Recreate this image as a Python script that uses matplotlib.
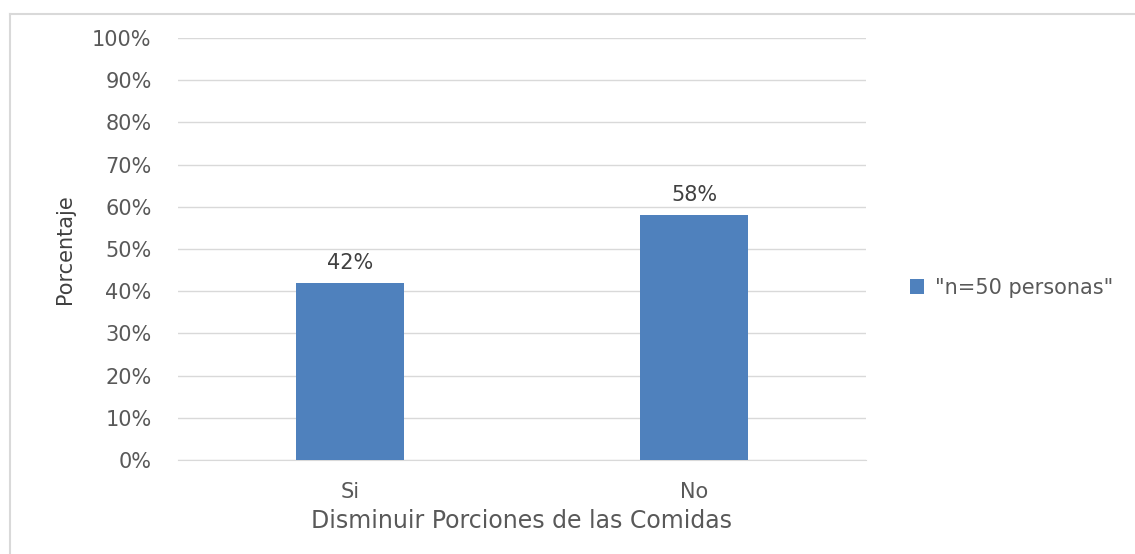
import matplotlib
matplotlib.use("Agg")
import matplotlib.pyplot as plt
from matplotlib.lines import Line2D
from matplotlib.ticker import PercentFormatter

categories = ["Si", "No"]
values = [42, 58]
series_name = '"n=50 personas"'

BAR_COLOR = "#4F81BD"
TEXT_COLOR = "#595959"
GRID_COLOR = "#D9D9D9"

plt.rcParams["font.family"] = ["DejaVu Sans"]

fig = plt.figure(figsize=(11.35, 5.54), dpi=100)
ax = fig.add_axes([0.1568, 0.1697, 0.6062, 0.7617])

x = range(len(categories))
bars = ax.bar(x, values, width=0.313, color=BAR_COLOR, label=series_name, zorder=3)
for bar, v in zip(bars, values):
    ax.text(bar.get_x() + bar.get_width() / 2, v + 2.4, f"{v}%",
            ha="center", va="bottom", fontsize=15, color="#404040")

ax.set_xlim(-0.5, 1.5)
ax.set_ylim(0, 100)
ax.set_yticks(range(0, 101, 10))
ax.yaxis.set_major_formatter(PercentFormatter(decimals=0))
ax.set_xticks(list(x))
ax.set_xticklabels(categories)
ax.tick_params(axis="both", length=0, labelsize=15, labelcolor=TEXT_COLOR)
ax.tick_params(axis="y", pad=19)
ax.tick_params(axis="x", pad=16)
ax.grid(True, axis="y", color=GRID_COLOR, linewidth=1, zorder=0)
for side in ["top", "right", "left"]:
    ax.spines[side].set_visible(False)
ax.spines["bottom"].set_color(GRID_COLOR)

ax.set_xlabel("Disminuir Porciones de las Comidas", fontsize=17,
              color=TEXT_COLOR, labelpad=5)
ax.set_ylabel("Porcentaje", fontsize=15, color="#404040", labelpad=12,
              family=["Liberation Sans Narrow", "DejaVu Sans"])

ax.legend(loc="center left", bbox_to_anchor=(0.785, 0.48),
          bbox_transform=fig.transFigure, frameon=False, fontsize=15,
          handlelength=0.7, handleheight=0.7, handletextpad=0.5,
          labelcolor=TEXT_COLOR)

# chart area border (only top and left edges visible in the crop)
W, H = 1135, 554
fig.add_artist(Line2D([10 / W, 1], [1 - 14 / H] * 2, transform=fig.transFigure,
                      color="#D9D9D9", linewidth=1.5))
fig.add_artist(Line2D([10 / W] * 2, [0, 1 - 14 / H], transform=fig.transFigure,
                      color="#D9D9D9", linewidth=1.5))

fig.savefig("out.png", dpi=100)
